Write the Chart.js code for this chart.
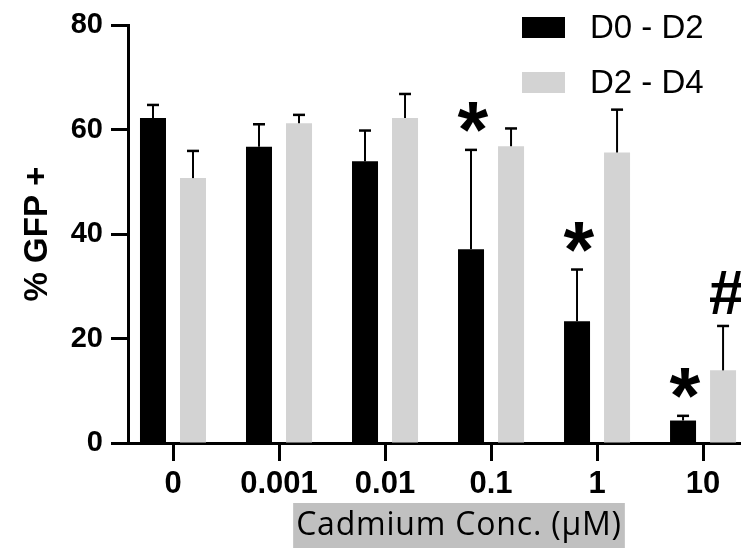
<!DOCTYPE html>
<html>
<head>
<meta charset="utf-8">
<script src="https://cdn.jsdelivr.net/npm/chart.js@4/dist/chart.umd.min.js"></script>
<style>
  html, body { margin: 0; padding: 0; background: #ffffff; overflow: hidden; }
  #wrap { width: 741px; height: 548px; position: relative; }
  canvas { display: block; }
</style>
</head>
<body>
<div id="wrap"><canvas id="c" width="741" height="548"></canvas></div>
<script>
// ---- data ----
const categories = ['0', '0.001', '0.01', '0.1', '1', '10'];
const seriesNames = ['D0 - D2', 'D2 - D4'];
const d0d2 = [62.2, 56.7, 53.9, 37.1, 23.3, 4.3];
const d0d2Err = [2.5, 4.3, 5.9, 19.0, 9.9, 0.9];
const d2d4 = [50.7, 61.2, 62.2, 56.8, 55.6, 13.9];
const d2d4Err = [5.2, 1.6, 4.6, 3.4, 8.2, 8.5];
const d0d2Marks = ['', '', '', '*', '*', '*'];
const d2d4Marks = ['', '', '', '', '', '#'];
const yTicks = [0, 20, 40, 60, 80];
const xTitle = 'Cadmium Conc. (\u00B5M)';
const yTitle = '% GFP +';

const COLORS = ['#000000', '#d3d3d3'];
const errs = [d0d2Err, d2d4Err];
const marks = [d0d2Marks, d2d4Marks];
const SANS = '"Liberation Sans", Arial, Helvetica, sans-serif';

function drawGlyphCentered(ctx, txt, fontStyle, targetH, cx, cy) {
  ctx.save();
  ctx.font = fontStyle + ' 100px ' + SANS;
  let m = ctx.measureText(txt);
  const h = m.actualBoundingBoxAscent + m.actualBoundingBoxDescent;
  const size = 100 * targetH / h;
  ctx.font = fontStyle + ' ' + size + 'px ' + SANS;
  ctx.textAlign = 'center';
  ctx.textBaseline = 'alphabetic';
  m = ctx.measureText(txt);
  const x = cx - (m.actualBoundingBoxRight - m.actualBoundingBoxLeft) / 2;
  const y = cy + (m.actualBoundingBoxAscent - m.actualBoundingBoxDescent) / 2;
  ctx.fillStyle = '#000';
  ctx.fillText(txt, x, y);
  ctx.restore();
}

const extras = {
  id: 'extras',
  afterDatasetsDraw(chart) {
    const ctx = chart.ctx;
    const ys = chart.scales.y;
    chart.data.datasets.forEach((ds, di) => {
      const meta = chart.getDatasetMeta(di);
      meta.data.forEach((el, j) => {
        const v = ds.data[j].y;
        const top = ys.getPixelForValue(v + errs[di][j]);
        ctx.save();
        ctx.strokeStyle = '#000';
        ctx.lineWidth = 2;
        ctx.beginPath();
        ctx.moveTo(el.x, el.y);
        ctx.lineTo(el.x, top);
        ctx.stroke();
        ctx.lineWidth = 2.5;
        ctx.beginPath();
        ctx.moveTo(el.x - 6, top);
        ctx.lineTo(el.x + 6, top);
        ctx.stroke();
        ctx.restore();
        const mk = marks[di][j];
        if (mk === '*') drawGlyphCentered(ctx, '*', 'bold', 30, el.x + 2, top - 33);
        if (mk === '#') drawGlyphCentered(ctx, '#', 'italic bold', 44, el.x + 4, top - 33);
      });
    });
  },
  afterDraw(chart) {
    const ctx = chart.ctx;
    // legend
    ctx.save();
    chart.data.datasets.forEach((ds, i) => {
      const by = 17 + i * 55;
      ctx.fillStyle = ds.backgroundColor;
      ctx.fillRect(522, by, 43, 21);
      ctx.fillStyle = '#000';
      ctx.font = '33px ' + SANS;
      ctx.textAlign = 'left';
      ctx.textBaseline = 'alphabetic';
      ctx.fillText(ds.label, 590, by + 21);
    });
    // x title with grey background
    ctx.font = '32px "Open Sans", "Noto Sans", sans-serif';
    ctx.letterSpacing = '0.8px';
    const w = ctx.measureText(xTitle).width;
    const cx = 459, cy = 525.5;
    ctx.fillStyle = '#c0c0c0';
    ctx.fillRect(cx - w / 2 - 3, 503, w + 6, 50);
    ctx.fillStyle = '#000';
    ctx.textAlign = 'center';
    ctx.textBaseline = 'middle';
    ctx.fillText(xTitle, cx, cy);
    ctx.restore();
  }
};

const chart = new Chart(document.getElementById('c'), {
  type: 'bar',
  data: {
    datasets: [
      { label: seriesNames[0], data: categories.map((c, i) => ({ x: i, y: d0d2[i] })), backgroundColor: COLORS[0], borderWidth: 0 },
      { label: seriesNames[1], data: categories.map((c, i) => ({ x: i, y: d2d4[i] })), backgroundColor: COLORS[1], borderWidth: 0 }
    ]
  },
  options: {
    responsive: false,
    animation: false,
    devicePixelRatio: 1,
    categoryPercentage: 0.755,
    barPercentage: 0.65,
    layout: { padding: { top: 25, left: 0, right: 0, bottom: 0 } },
    plugins: { legend: { display: false }, tooltip: { enabled: false } },
    scales: {
      x: {
        type: 'linear',
        offset: false,
        min: -0.4245,
        max: 5.358,
        afterBuildTicks: (s) => { s.ticks = categories.map((c, i) => ({ value: i })); },
        afterFit: (s) => { s.height = 105; s.paddingLeft = 0; s.paddingRight = 0; },
        ticks: {
          autoSkip: false, maxRotation: 0, minRotation: 0,
          color: '#000', padding: 5,
          font: { family: SANS, size: 31, weight: 'bold' },
          callback: (v) => categories[v]
        },
        grid: { offset: false, drawOnChartArea: false, drawTicks: true, tickLength: 18, tickWidth: 3, tickColor: '#000' },
        border: { display: true, color: '#000', width: 3 }
      },
      y: {
        min: 0, max: 80,
        afterBuildTicks: (s) => { s.ticks = yTicks.map(v => ({ value: v })); },
        afterFit: (s) => { s.width = 128; s.paddingTop = 0; s.paddingBottom = 0; },
        ticks: { color: '#000', padding: 8, font: { family: SANS, size: 29, weight: 'bold' } },
        grid: { drawOnChartArea: false, drawTicks: true, tickLength: 17, tickWidth: 3, tickColor: '#000' },
        border: { display: true, color: '#000', width: 3 },
        title: { display: true, text: yTitle, color: '#000', padding: { top: 18, bottom: 0 }, font: { family: SANS, size: 33, weight: 'bold' } }
      }
    }
  },
  plugins: [extras]
});
</script>
</body>
</html>
